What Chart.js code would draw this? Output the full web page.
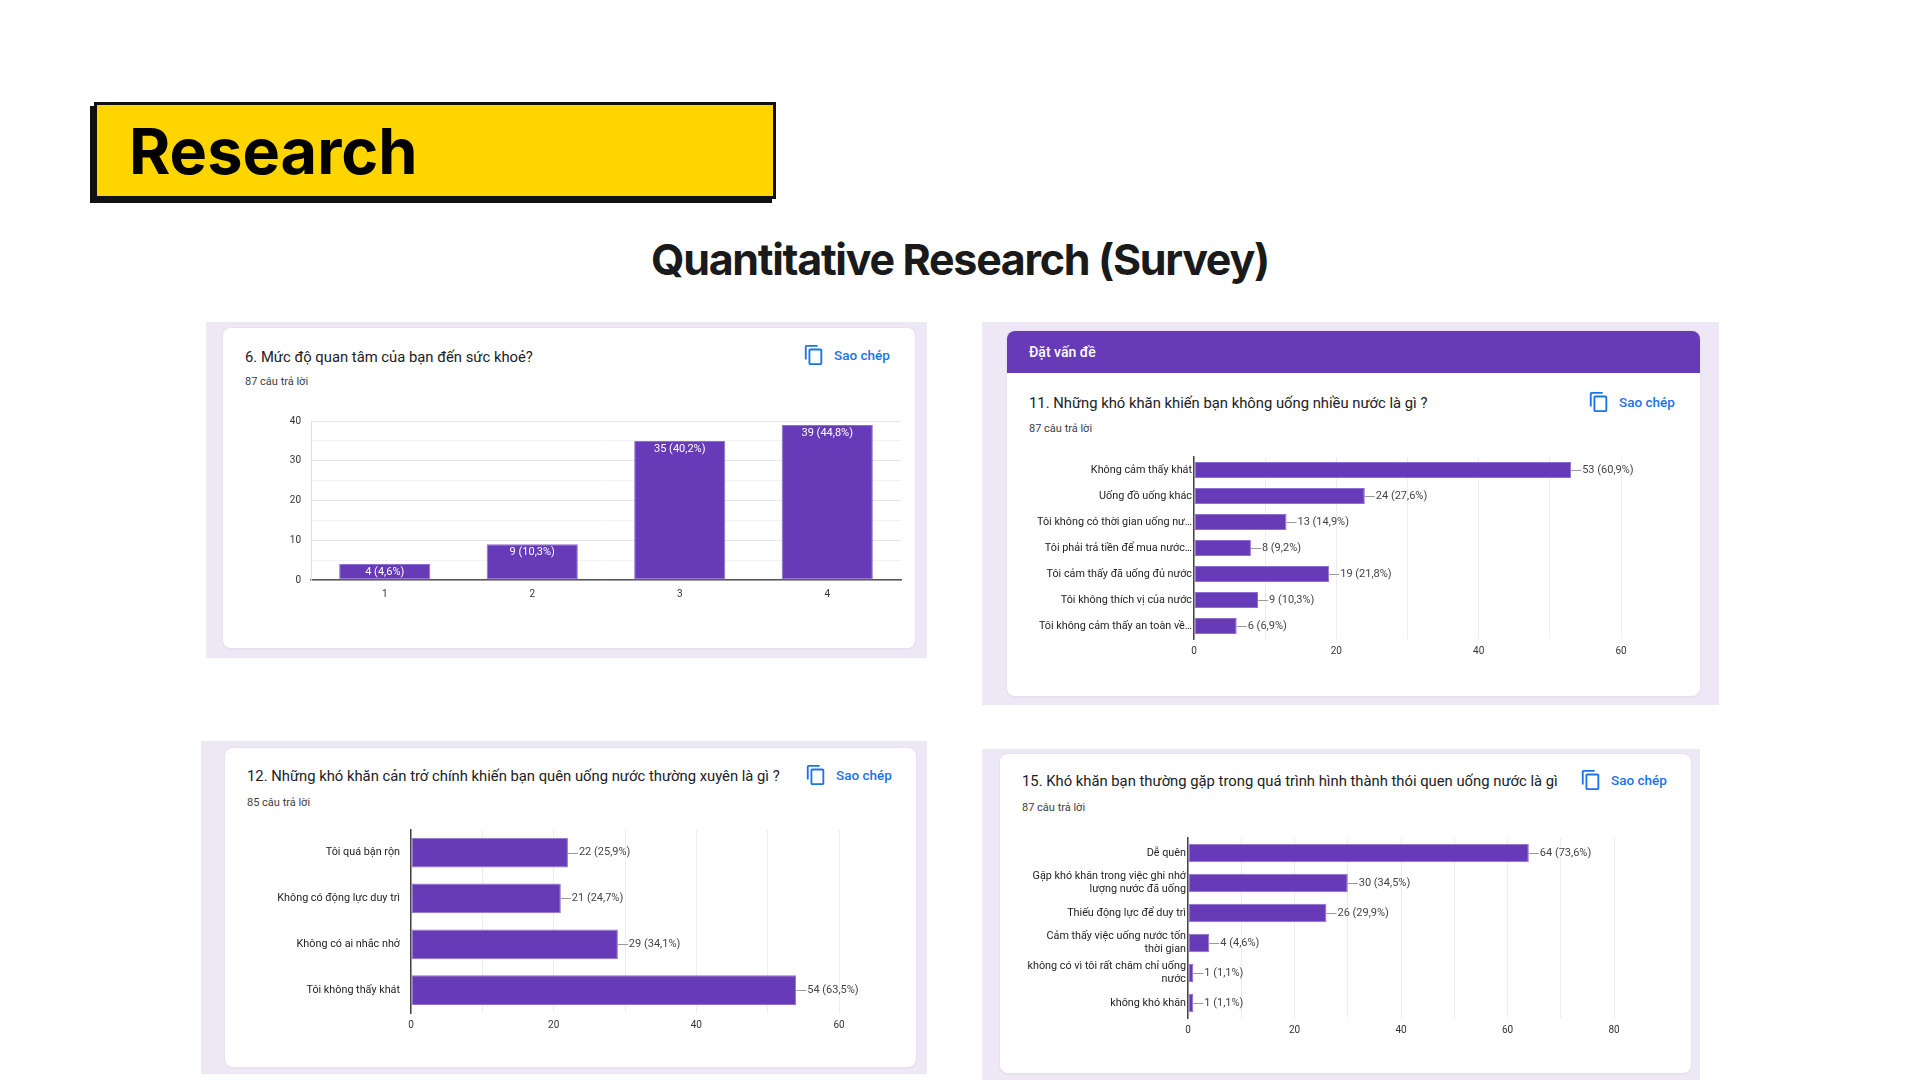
<!DOCTYPE html>
<html>
<head>
<meta charset="utf-8">
<script src="https://cdn.jsdelivr.net/npm/chart.js@4.4.1/dist/chart.umd.min.js"></script>
<style>
  html, body { margin: 0; padding: 0; }
  body { width: 1920px; height: 1080px; position: relative; overflow: hidden; background: #fff; font-family: Roboto, "Noto Sans", sans-serif; }
  .abs { position: absolute; }
  .outer { position: absolute; background: #ede7f6; }
  .card { position: absolute; background: #fff; border-radius: 8px; box-shadow: 0 0 0 1px #e6e1ee, 0 1px 2px rgba(0,0,0,0.08); overflow: hidden; }
  .txt { position: absolute; white-space: nowrap; }
  .copy { position: absolute; display: flex; align-items: center; gap: 9px; color: #1a73e8; font-size: 13.5px; font-weight: 500; white-space: nowrap; }
  .copy svg { width: 22px; height: 22px; fill: #1a73e8; }
  #research { left: 94px; top: 102px; width: 676px; height: 91px; background: #ffd500; border: 3px solid #111; box-shadow: -4px 4px 0 #111; }
  #researchTxt { left: 129px; top: 120px; font-family: Inter, sans-serif; font-weight: 700; font-size: 63px; line-height: 63px; color: #000; }
  #subtitle { left: 0; width: 1920px; top: 237px; text-align: center; font-family: Inter, sans-serif; font-weight: 700; font-size: 43px; line-height: 44px; letter-spacing: -1.3px; color: #1a1a1a; }
  canvas { position: absolute; }
</style>
</head>
<body>
<div id="research" class="abs"></div>
<div id="researchTxt" class="txt">Research</div>
<div id="subtitle" class="txt">Quantitative Research (Survey)</div>

<canvas id="c6" width="635" height="199" style="left:270px;top:405px"></canvas>
<canvas id="c11" width="641" height="216" style="left:1020px;top:447px"></canvas>
<canvas id="c12" width="624" height="225" style="left:255px;top:812px"></canvas>
<canvas id="c15" width="639" height="214" style="left:1015px;top:828px"></canvas>

<script>
// Q6: health concern level (1-4)
const q6Labels = ['1', '2', '3', '4'];
const q6Values = [4, 9, 35, 39];
const q6Total = 87;

// Q11: why not drinking much water
const q11Labels = [
  'Không cảm thấy khát',
  'Uống đồ uống khác',
  'Tôi không có thời gian uống nư…',
  'Tôi phải trả tiền để mua nước…',
  'Tôi cảm thấy đã uống đủ nước',
  'Tôi không thích vị của nước',
  'Tôi không cảm thấy an toàn về…'
];
const q11Values = [53, 24, 13, 8, 19, 9, 6];
const q11Total = 87;

// Q12: what makes you forget to drink water
const q12Labels = ['Tôi quá bận rộn', 'Không có động lực duy trì', 'Không có ai nhắc nhở', 'Tôi không thấy khát'];
const q12Values = [22, 21, 29, 54];
const q12Total = 85;

// Q15: difficulties forming the habit
const q15Labels = [
  'Dễ quên',
  ['Gặp khó khăn trong việc ghi nhớ', 'lượng nước đã uống'],
  'Thiếu động lực để duy trì',
  ['Cảm thấy việc uống nước tốn', 'thời gian'],
  ['không có vì tôi rất chăm chỉ uống', 'nước'],
  'không khó khăn'
];
const q15Values = [64, 30, 26, 4, 1, 1];
const q15Total = 87;

const PURPLE = '#673ab7';
const TICK_FONT = { family: 'Roboto', size: 10 };

const pctLabel = (v, total) => v + ' (' + (v / total * 100).toFixed(1).replace('.', ',') + '%)';

const copyIcon = '<svg viewBox="0 0 24 24"><path d="M16 1H4c-1.1 0-2 .9-2 2v14h2V3h12V1zm3 4H8c-1.1 0-2 .9-2 2v14c0 1.1.9 2 2 2h11c1.1 0 2-.9 2-2V7c0-1.1-.9-2-2-2zm0 16H8V7h11v14z"/></svg>';

function box(cls, x, y, w, h) {
  const d = document.createElement('div');
  d.className = cls;
  Object.assign(d.style, { left: x + 'px', top: y + 'px', width: w + 'px', height: h + 'px' });
  document.body.insertBefore(d, document.body.firstChild);
  return d;
}

function text(str, x, yc, size, color, weight) {
  const d = document.createElement('div');
  d.className = 'txt';
  const lh = Math.round(size * 1.4);
  Object.assign(d.style, { left: x + 'px', top: (yc - lh / 2) + 'px', fontSize: size + 'px', lineHeight: lh + 'px', color: color, fontWeight: weight || 400 });
  d.textContent = str;
  document.body.appendChild(d);
}

function copyBtn(x, yc) {
  const d = document.createElement('div');
  d.className = 'copy';
  d.style.left = (x - 3) + 'px';
  d.style.top = (yc - 11) + 'px';
  d.style.height = '22px';
  d.innerHTML = copyIcon + '<span>Sao chép</span>';
  document.body.appendChild(d);
}

// panels (back to front)
box('card', 1000, 754, 691, 319);
box('outer', 982, 749, 718, 331);
box('card', 225, 748, 691, 319);
box('outer', 201, 741, 726, 333);
const head = box('abs', 1007, 331, 693, 42);
head.style.background = PURPLE;
head.style.borderRadius = '8px 8px 0 0';
box('card', 1007, 331, 693, 365);
box('outer', 982, 322, 737, 383);
box('card', 223, 328, 692, 320);
box('outer', 206, 322, 721, 336);
// header above its card, charts above everything
document.body.appendChild(head);
document.querySelectorAll('canvas').forEach(c => document.body.appendChild(c));

text('6. Mức độ quan tâm của bạn đến sức khoẻ?', 245, 357.5, 14.8, '#202124');
text(q6Total + ' câu trả lời', 245, 381.5, 11, '#3c4043');
copyBtn(806, 355);

text('Đặt vấn đề', 1029, 351.5, 14, '#fff', 500);
text('11. Những khó khăn khiến bạn không uống nhiều nước là gì ?', 1029, 403.5, 14.8, '#202124');
text(q11Total + ' câu trả lời', 1029, 428, 11, '#3c4043');
copyBtn(1591, 402);

text('12. Những khó khăn cản trở chính khiến bạn quên uống nước thường xuyên là gì ?', 247, 776.5, 14.8, '#202124');
text(q12Total + ' câu trả lời', 247, 802, 11, '#3c4043');
copyBtn(808, 775);

text('15. Khó khăn bạn thường gặp trong quá trình hình thành thói quen uống nước là gì', 1022, 781.5, 14.8, '#202124');
text(q15Total + ' câu trả lời', 1022, 807, 11, '#3c4043');
copyBtn(1583, 780);

// value labels: inside the top of vertical bars, or after a short leader line for horizontal bars
const valueLabels = {
  id: 'valueLabels',
  afterDatasetsDraw(chart, args, opts) {
    const ctx = chart.ctx;
    const meta = chart.getDatasetMeta(0);
    ctx.save();
    ctx.font = '11px Roboto';
    meta.data.forEach((bar, i) => {
      const label = opts.labels[i];
      if (opts.inside) {
        ctx.fillStyle = '#fff';
        ctx.textAlign = 'center';
        ctx.textBaseline = 'top';
        ctx.fillText(label, bar.x, bar.y + 3);
      } else {
        ctx.strokeStyle = '#999';
        ctx.lineWidth = 1;
        ctx.beginPath();
        ctx.moveTo(bar.x, Math.round(bar.y) + 0.5);
        ctx.lineTo(bar.x + 10, Math.round(bar.y) + 0.5);
        ctx.stroke();
        ctx.fillStyle = '#444';
        ctx.textAlign = 'left';
        ctx.textBaseline = 'middle';
        ctx.fillText(label, bar.x + 11, bar.y);
      }
    });
    ctx.restore();
  }
};

function barDataset(values, pct) {
  return {
    data: values,
    backgroundColor: PURPLE,
    borderColor: '#8f6fcf',
    borderWidth: 1,
    borderSkipped: false,
    categoryPercentage: 1,
    barPercentage: pct || 0.618
  };
}

new Chart(document.getElementById('c6'), {
  type: 'bar',
  data: { labels: q6Labels, datasets: [barDataset(q6Values)] },
  plugins: [valueLabels],
  options: {
    responsive: false,
    animation: false,
    layout: { padding: { top: 10, right: 4 } },
    plugins: {
      legend: { display: false },
      tooltip: { enabled: false },
      valueLabels: { inside: true, labels: q6Values.map(v => pctLabel(v, q6Total)) }
    },
    scales: {
      x: {
        grid: { display: false },
        border: { color: '#555', width: 1.5 },
        ticks: { color: '#333', font: TICK_FONT, padding: 0 },
        afterFit: s => { s.height = 24; }
      },
      y: {
        min: 0, max: 40,
        ticks: { stepSize: 5, color: '#333', font: TICK_FONT, padding: 10, callback: v => v % 10 === 0 ? v : '' },
        grid: { color: c => c.tick.value % 10 === 0 ? '#e6e6e6' : '#f2f2f2', drawTicks: false },
        border: { color: '#e0e0e0' },
        afterFit: s => { s.width = 41; }
      }
    }
  }
});

function hbar(id, labels, values, total, max, axisWidth, labelPad, barPct) {
  new Chart(document.getElementById(id), {
    type: 'bar',
    data: { labels: labels, datasets: [barDataset(values, barPct)] },
    plugins: [valueLabels],
    options: {
      indexAxis: 'y',
      responsive: false,
      animation: false,
      layout: { padding: { top: 10, right: 40 } },
      plugins: {
        legend: { display: false },
        tooltip: { enabled: false },
        valueLabels: { inside: false, labels: values.map(v => pctLabel(v, total)) }
      },
      scales: {
        x: {
          min: 0, max: max,
          ticks: { stepSize: 10, color: '#333', font: TICK_FONT, padding: 6, callback: v => v % 20 === 0 ? v : '' },
          grid: { color: '#ededed', drawTicks: false },
          border: { display: false },
          afterFit: s => { s.height = 24; }
        },
        y: {
          grid: { display: false, drawTicks: false },
          border: { color: '#444', width: 1.5 },
          ticks: { color: '#222', font: { family: 'Roboto', size: 10.8, lineHeight: 1.25 }, padding: labelPad, autoSkip: false },
          afterFit: s => { s.width = axisWidth; }
        }
      }
    }
  });
}

hbar('c11', q11Labels, q11Values, q11Total, 60, 174, 2);
hbar('c12', q12Labels, q12Values, q12Total, 60, 156, 11, 0.65);
hbar('c15', q15Labels, q15Values, q15Total, 80, 173, 2);
</script>
</body>
</html>
